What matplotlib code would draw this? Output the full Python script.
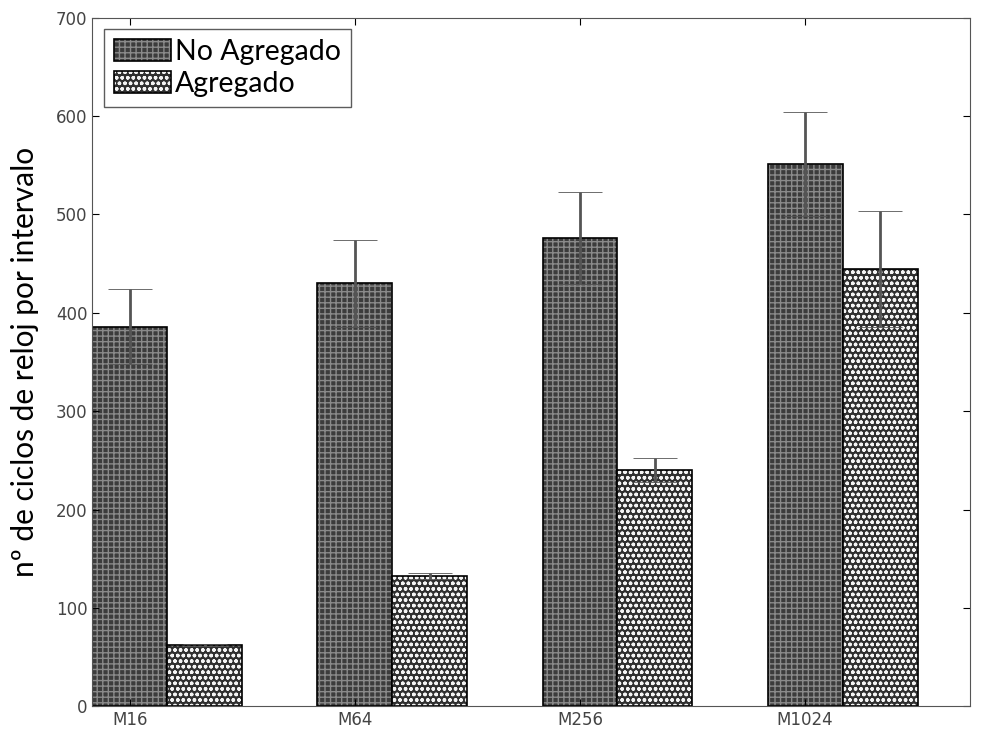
import numpy as np
import matplotlib.pyplot as plt
from matplotlib.legend_handler import HandlerTuple

categories = ["M16", "M64", "M256", "M1024"]
no_agregado = [386, 430, 476, 551]
no_agregado_err = [38, 44, 47, 53]
agregado = [62, 132, 240, 445]
agregado_err = [1, 3, 12, 59]

x = np.arange(len(categories))
w = 0.333

fig = plt.figure(figsize=(9.82, 7.38), dpi=100)
ax = fig.add_axes([0.094, 0.043, 0.894, 0.933])

# hatched fill first, then black outline on top
na_fill = ax.bar(x, no_agregado, w, align="edge", color="#3c3c3c", hatch="+++",
                 edgecolor="#8a8a8a", linewidth=0)
na_edge = ax.bar(x, no_agregado, w, align="edge", fill=False, edgecolor="black", linewidth=1.2)
ag_fill = ax.bar(x + w, agregado, w, align="edge", color="#303030", hatch="ooo",
                 edgecolor="#f4f4f4", linewidth=0)
ag_edge = ax.bar(x + w, agregado, w, align="edge", fill=False, edgecolor="black", linewidth=1.2)

ax.errorbar(x + w / 2, no_agregado, yerr=no_agregado_err, fmt="none",
            ecolor="#555555", elinewidth=2, capsize=16, capthick=0.6)
ax.errorbar(x + 1.5 * w, agregado, yerr=agregado_err, fmt="none",
            ecolor="#555555", elinewidth=2, capsize=16, capthick=0.6)

ax.legend([(na_fill[0], na_edge[0]), (ag_fill[0], ag_edge[0])],
          ["No Agregado", "Agregado"], loc="upper left",
          handler_map={tuple: HandlerTuple(ndivide=1, pad=0)},
          prop={"family": "Lato", "size": 20.5}, fancybox=False,
          edgecolor="#333333", borderaxespad=0.4, handlelength=2.0,
          handleheight=0.8, handletextpad=0.15, borderpad=0.35,
          labelspacing=0.2)

ax.set_xlim(0, 3.9)
ax.set_ylim(0, 700)
ax.set_xticks(x + w / 2)
ax.set_xticklabels(categories)
ax.set_yticks(range(0, 701, 100))
ax.tick_params(direction="in", top=True, right=True, labelsize=12,
               labelcolor="#444444", length=5)
ax.set_ylabel("nº de ciclos de reloj por intervalo", family="Lato",
              fontsize=21.5, labelpad=12)
for s in ax.spines.values():
    s.set_color("#555555")

fig.savefig("out.png", dpi=100)
